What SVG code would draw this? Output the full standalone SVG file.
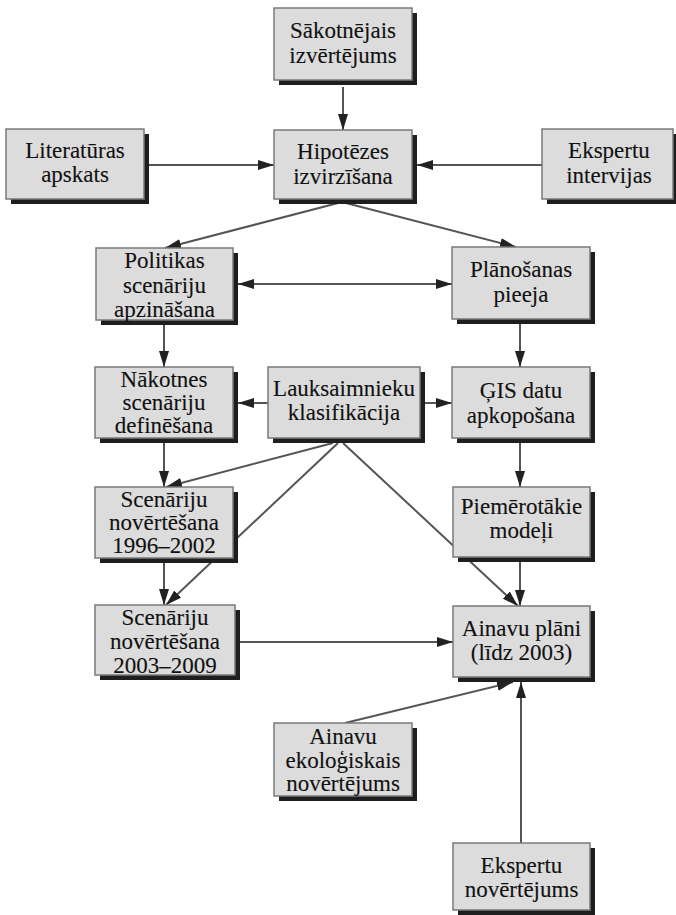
<svg xmlns="http://www.w3.org/2000/svg" width="676" height="915" viewBox="0 0 676 915">
  <style>
    .shadow { fill: #1e1e1e; }
    .box { fill: #dcdcdc; stroke: #7a7a7a; stroke-width: 1.5; }
    .lbl { font-family: 'Liberation Serif', 'Times New Roman', Times, serif; font-size: 23px; fill: #111; stroke: #111; stroke-width: 0.12; text-anchor: middle; }
    .edge { stroke: #555; stroke-width: 2; fill: none; marker-end: url(#head); }
    .edge2 { marker-start: url(#tail); }
  </style>
  <defs>
    <marker id="head" markerUnits="userSpaceOnUse" markerWidth="17" markerHeight="12" refX="16" refY="5" orient="auto">
      <path d="M0,0 L16,5 L0,10 Z" fill="#222"/>
    </marker>
    <marker id="tail" markerUnits="userSpaceOnUse" markerWidth="17" markerHeight="12" refX="0" refY="5" orient="auto">
      <path d="M16,0 L0,5 L16,10 Z" fill="#222"/>
    </marker>
  </defs>

  <!-- connectors, drawn first so boxes sit on top -->
  <g id="connectors">
    <line class="edge" x1="343" y1="87" x2="343" y2="130"/>
    <line class="edge" x1="149" y1="165" x2="274" y2="165"/>
    <line class="edge" x1="542" y1="165" x2="417" y2="165"/>
    <line class="edge" x1="342" y1="202" x2="165" y2="248"/>
    <line class="edge" x1="342" y1="202" x2="516" y2="247"/>
    <line class="edge edge2" x1="238" y1="284" x2="452" y2="284"/>
    <line class="edge" x1="164" y1="325" x2="164" y2="367"/>
    <line class="edge" x1="520" y1="324" x2="520" y2="367"/>
    <line class="edge" x1="268" y1="403" x2="238" y2="403"/>
    <line class="edge" x1="425" y1="403" x2="452" y2="403"/>
    <line class="edge" x1="164" y1="443" x2="164" y2="487"/>
    <line class="edge" x1="333" y1="443" x2="166" y2="487"/>
    <line class="edge" x1="338" y1="443" x2="166" y2="605"/>
    <line class="edge" x1="343" y1="443" x2="518" y2="606"/>
    <line class="edge" x1="520" y1="443" x2="520" y2="487"/>
    <line class="edge" x1="164" y1="563" x2="164" y2="605"/>
    <line class="edge" x1="520" y1="562" x2="520" y2="606"/>
    <line class="edge" x1="240" y1="642" x2="453" y2="642"/>
    <line class="edge" x1="345" y1="723" x2="513" y2="682"/>
    <line class="edge" x1="521" y1="843" x2="521" y2="682"/>
  </g>

  <g id="sakotnejais">
    <rect class="shadow" x="279" y="13" width="138" height="72"/>
    <rect class="box" x="274" y="8" width="138" height="72"/>
    <text class="lbl" x="343" y="38">Sākotnējais</text>
    <text class="lbl" x="343" y="63">izvērtējums</text>
  </g>

  <g id="literaturas">
    <rect class="shadow" x="11" y="134" width="138" height="70"/>
    <rect class="box" x="6" y="129" width="138" height="70"/>
    <text class="lbl" x="75" y="158">Literatūras</text>
    <text class="lbl" x="75" y="182">apskats</text>
  </g>

  <g id="hipotezes">
    <rect class="shadow" x="279" y="135" width="138" height="69"/>
    <rect class="box" x="274" y="130" width="138" height="69"/>
    <text class="lbl" x="343" y="159">Hipotēzes</text>
    <text class="lbl" x="343" y="184">izvirzīšana</text>
  </g>

  <g id="ekspertu-intervijas">
    <rect class="shadow" x="547" y="134" width="131" height="70"/>
    <rect class="box" x="542" y="129" width="131" height="70"/>
    <text class="lbl" x="609" y="158">Ekspertu</text>
    <text class="lbl" x="609" y="183">intervijas</text>
  </g>

  <g id="politikas">
    <rect class="shadow" x="101" y="253" width="137" height="72"/>
    <rect class="box" x="96" y="248" width="137" height="72"/>
    <text class="lbl" x="164.5" y="268">Politikas</text>
    <text class="lbl" x="164.5" y="293">scenāriju</text>
    <text class="lbl" x="164.5" y="317">apzināšana</text>
  </g>

  <g id="planosanas">
    <rect class="shadow" x="457" y="252" width="138" height="72"/>
    <rect class="box" x="452" y="247" width="138" height="72"/>
    <text class="lbl" x="521" y="277">Plānošanas</text>
    <text class="lbl" x="521" y="302">pieeja</text>
  </g>

  <g id="nakotnes">
    <rect class="shadow" x="100" y="372" width="138" height="71"/>
    <rect class="box" x="95" y="367" width="138" height="71"/>
    <text class="lbl" x="164" y="387">Nākotnes</text>
    <text class="lbl" x="164" y="410">scenāriju</text>
    <text class="lbl" x="164" y="433">definēšana</text>
  </g>

  <g id="lauksaimnieku">
    <rect class="shadow" x="273" y="372" width="152" height="71"/>
    <rect class="box" x="268" y="367" width="152" height="71"/>
    <text class="lbl" x="344" y="396">Lauksaimnieku</text>
    <text class="lbl" x="344" y="420">klasifikācija</text>
  </g>

  <g id="gis">
    <rect class="shadow" x="457" y="372" width="138" height="71"/>
    <rect class="box" x="452" y="367" width="138" height="71"/>
    <text class="lbl" x="521" y="398">ĢIS datu</text>
    <text class="lbl" x="521" y="423">apkopošana</text>
  </g>

  <g id="scenariju-1996">
    <rect class="shadow" x="100" y="492" width="138" height="71"/>
    <rect class="box" x="95" y="487" width="138" height="71"/>
    <text class="lbl" x="164" y="507">Scenāriju</text>
    <text class="lbl" x="164" y="530">novērtēšana</text>
    <text class="lbl" x="164" y="553">1996–2002</text>
  </g>

  <g id="piemerotakie">
    <rect class="shadow" x="458" y="492" width="137" height="70"/>
    <rect class="box" x="453" y="487" width="137" height="70"/>
    <text class="lbl" x="521.5" y="514">Piemērotākie</text>
    <text class="lbl" x="521.5" y="538">modeļi</text>
  </g>

  <g id="scenariju-2003">
    <rect class="shadow" x="100" y="610" width="140" height="70"/>
    <rect class="box" x="95" y="605" width="140" height="70"/>
    <text class="lbl" x="165" y="625">Scenāriju</text>
    <text class="lbl" x="165" y="649">novērtēšana</text>
    <text class="lbl" x="165" y="673">2003–2009</text>
  </g>

  <g id="ainavu-plani">
    <rect class="shadow" x="458" y="611" width="137" height="71"/>
    <rect class="box" x="453" y="606" width="137" height="71"/>
    <text class="lbl" x="521.5" y="636">Ainavu plāni</text>
    <text class="lbl" x="521.5" y="660">(līdz 2003)</text>
  </g>

  <g id="ainavu-ekologiskais">
    <rect class="shadow" x="279" y="728" width="138" height="73"/>
    <rect class="box" x="274" y="723" width="138" height="73"/>
    <text class="lbl" x="343" y="744">Ainavu</text>
    <text class="lbl" x="343" y="768">ekoloģiskais</text>
    <text class="lbl" x="343" y="791">novērtējums</text>
  </g>

  <g id="ekspertu-novertejums">
    <rect class="shadow" x="458" y="848" width="137" height="67"/>
    <rect class="box" x="453" y="843" width="137" height="67"/>
    <text class="lbl" x="521.5" y="873">Ekspertu</text>
    <text class="lbl" x="521.5" y="897">novērtējums</text>
  </g>
</svg>
